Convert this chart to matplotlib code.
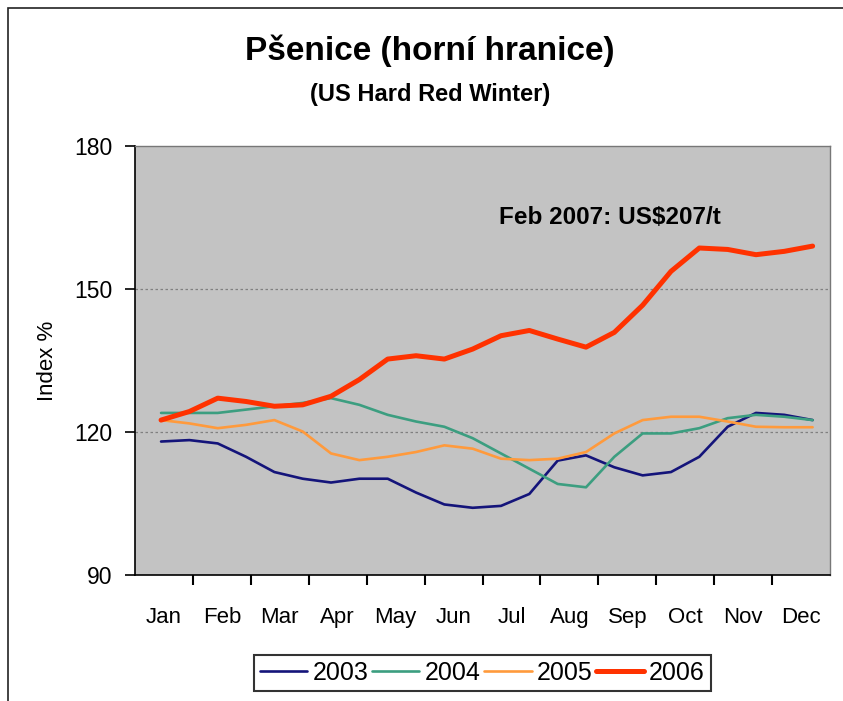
import matplotlib
matplotlib.use("Agg")
import matplotlib.pyplot as plt
import numpy as np
from matplotlib.patches import Rectangle

plt.rcParams["font.family"] = ["Liberation Sans", "DejaVu Sans"]

months = ["Jan", "Feb", "Mar", "Apr", "May", "Jun", "Jul", "Aug", "Sep", "Oct", "Nov", "Dec"]

# semi-monthly readings (24 points, Jan..Dec)
s2003 = [118.0, 118.3, 117.6, 114.8, 111.6, 110.2, 109.4, 110.2, 110.2, 107.3, 104.8, 104.1,
         104.5, 107.0, 114.0, 115.1, 112.6, 110.9, 111.6, 114.8, 121.1, 124.0, 123.6, 122.5]
s2004 = [124.0, 124.0, 124.0, 124.7, 125.4, 126.1, 127.1, 125.7, 123.6, 122.2, 121.1, 118.7,
         115.5, 112.3, 109.1, 108.4, 114.8, 119.7, 119.7, 120.8, 122.9, 123.6, 123.2, 122.5]
s2005 = [122.5, 121.8, 120.8, 121.5, 122.5, 120.1, 115.5, 114.1, 114.8, 115.8, 117.2, 116.5,
         114.4, 114.1, 114.4, 115.8, 119.7, 122.5, 123.2, 123.2, 122.2, 121.1, 121.0, 121.0]
s2006 = [122.5, 124.3, 127.1, 126.4, 125.4, 125.7, 127.5, 131.0, 135.3, 136.0, 135.3, 137.4,
         140.2, 141.3, 139.5, 137.8, 140.9, 146.6, 153.7, 158.6, 158.3, 157.2, 157.9, 159.0]
years = ["2003", "2004", "2005", "2006"]
yticks = [90, 120, 150, 180]

colors = ["#14147a", "#3c9e80", "#ff9a3c", "#ff3200"]
widths = [1.9, 1.9, 1.9, 3.6]

W, H = 843, 701
fig = plt.figure(figsize=(W / 100, H / 100), dpi=100)
fig.patch.set_facecolor("white")
fig.patches.append(Rectangle((8 / W, -0.01), 1.02, 1 - 8 / H + 0.01, transform=fig.transFigure,
                             fill=False, edgecolor="#222222", linewidth=1.2))

ax = fig.add_axes([135 / W, 1 - 575 / H, (830 - 135) / W, (575 - 146) / H])
ax.set_facecolor("#c3c3c3")

x = np.linspace(-0.05, 11.2, len(s2006))
for data, lab, c, lw in zip([s2003, s2004, s2005, s2006], years, colors, widths):
    ax.plot(x, data, color=c, lw=lw, label=lab, solid_joinstyle="round", solid_capstyle="round")

ax.set_xlim(-0.5, 11.5)
ax.set_ylim(90, 180)
ax.set_yticks(yticks)
ax.set_xticks(range(12))
ax.set_xticklabels(months)
ax.set_xticks(np.arange(0.5, 11, 1), minor=True)
ax.tick_params(axis="x", which="major", length=0, pad=23, labelsize=16)
ax.tick_params(axis="x", which="minor", length=7, width=1.5, direction="out", color="black")
ax.tick_params(axis="y", length=7, width=1.2, labelsize=16.5, pad=9)
for v in [120, 150]:
    ax.axhline(v, color="#808080", lw=0.9, ls=(0, (2, 2)), zorder=0.5)

for s in ["left", "bottom"]:
    ax.spines[s].set_color("black")
    ax.spines[s].set_linewidth(1.2)
for s in ["top", "right"]:
    ax.spines[s].set_color("#777777")
    ax.spines[s].set_linewidth(1.0)

ax.set_ylabel("Index %", fontsize=16, labelpad=12)

ax.text(5.79, 165, "Feb 2007: US$207/t", fontsize=17.5, fontweight="bold",
        ha="left", va="center")

fig.text(430 / W, 1 - 51 / H, "Pšenice (horní hranice)", fontsize=24, fontweight="bold",
         ha="center", va="center")
fig.text(430 / W, 1 - 95 / H, "(US Hard Red Winter)", fontsize=17, fontweight="bold",
         ha="center", va="center")

leg = fig.legend(loc="center", bbox_to_anchor=(482 / W, 1 - 673 / H), ncol=4, fontsize=18,
                 frameon=True, fancybox=False, edgecolor="black", handlelength=1.9,
                 columnspacing=0.15, handletextpad=0.2, borderpad=0.25, borderaxespad=0)
leg.get_frame().set_linewidth(1.5)

fig.savefig("out.png", dpi=100)
